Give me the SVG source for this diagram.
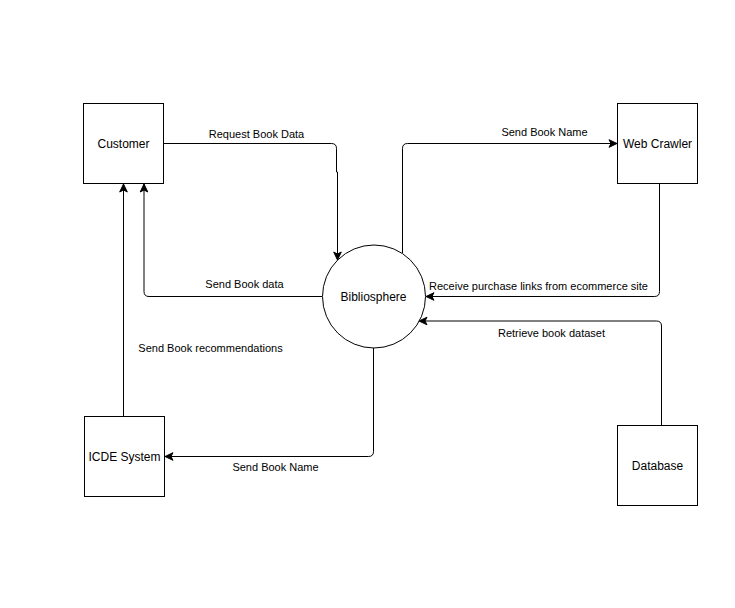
<svg xmlns="http://www.w3.org/2000/svg" width="735" height="608" viewBox="0 0 735 608">
<style>
.box{fill:#fff;stroke:#000;stroke-width:1}
.nl{font-family:"Liberation Sans",Arial,sans-serif;font-size:12px;fill:#000;text-anchor:middle}
.el{font-family:"Liberation Sans",Arial,sans-serif;font-size:11px;fill:#000;text-anchor:middle}
.edge{fill:none;stroke:#000;stroke-width:1}
</style>
<defs>
<marker id="arr" markerUnits="userSpaceOnUse" markerWidth="10" markerHeight="10" viewBox="0 0 10 10" refX="9" refY="5" orient="auto">
<path d="M1,1.2 L9,5 L1,8.8 L3,5 Z" fill="#000" stroke="#000" stroke-width="1"/>
</marker>
</defs>
<rect width="735" height="608" fill="#fff"/>
<g id="connectors">
<path class="edge" d="M163.5,143.5 H331.5 Q336.5,143.5 336.5,148.5 V172 H337.5 V260" marker-end="url(#arr)"/>
<path class="edge" d="M322,296.5 H149 Q144,296.5 144,291.5 V184" marker-end="url(#arr)"/>
<path class="edge" d="M123.5,416 V184" marker-end="url(#arr)"/>
<path class="edge" d="M373.5,348 V451.5 Q373.5,456.5 368.5,456.5 H165" marker-end="url(#arr)"/>
<path class="edge" d="M402.5,253 V148.5 Q402.5,143.5 407.5,143.5 H617" marker-end="url(#arr)"/>
<path class="edge" d="M659.5,183.5 V291.5 Q659.5,296.5 654.5,296.5 H426" marker-end="url(#arr)"/>
<path class="edge" d="M661.5,425.5 V326 Q661.5,321 656.5,321 H419" marker-end="url(#arr)"/>
<text class="el" x="256.5" y="138">Request Book Data</text>
<text class="el" x="244.5" y="288">Send Book data</text>
<text class="el" x="210.5" y="352">Send Book recommendations</text>
<text class="el" x="275.5" y="471">Send Book Name</text>
<text class="el" x="544.5" y="136">Send Book Name</text>
<text class="el" x="538.5" y="290">Receive purchase links from ecommerce site</text>
<text class="el" x="551.5" y="337">Retrieve book dataset</text>
</g>
<g id="customer">
<rect class="box" x="83.5" y="103.5" width="80" height="80"/>
<text class="nl" x="123.5" y="147.5">Customer</text>
</g>
<g id="bibliosphere">
<circle class="box" cx="374" cy="296.5" r="51.5"/>
<text class="nl" x="373.5" y="300.5">Bibliosphere</text>
</g>
<g id="icde">
<rect class="box" x="84.5" y="416.5" width="80" height="80"/>
<text class="nl" x="124.5" y="460.5">ICDE System</text>
</g>
<g id="webcrawler">
<rect class="box" x="617.5" y="103.5" width="80" height="80"/>
<text class="nl" x="657.5" y="147.5">Web Crawler</text>
</g>
<g id="database">
<rect class="box" x="617.5" y="425.5" width="80" height="80"/>
<text class="nl" x="657.5" y="469.5">Database</text>
</g>
</svg>
